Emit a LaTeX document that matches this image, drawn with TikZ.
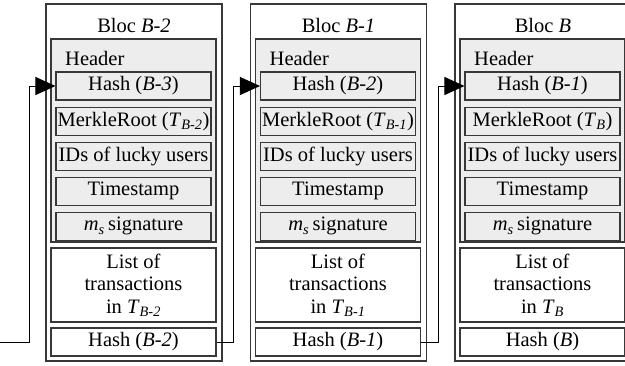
\documentclass[tikz,border=0pt]{standalone}
\usepackage{fontspec}
\setmainfont{Liberation Serif}
\usepackage{tikz}
\usetikzlibrary{arrows.meta,positioning}
\usepackage{xcolor}
\definecolor{hdrgray}{rgb}{0.93,0.93,0.93}
\definecolor{linegray}{rgb}{0.22,0.22,0.22}
\newcommand{\blocfont}{\fontsize{20.5}{22.5}\selectfont}
\tikzset{
  bloc/.style    ={rectangle, draw=linegray, fill=white, line width=1.1pt,
                   minimum width=176pt, minimum height=357pt, inner sep=0pt},
  hdr/.style     ={rectangle, draw=linegray, fill=hdrgray, line width=1.1pt,
                   minimum width=165pt, minimum height=203pt, inner sep=0pt},
  field/.style   ={rectangle, draw=linegray, fill=hdrgray, line width=1.1pt,
                   minimum width=155pt, minimum height=28pt, inner sep=0pt,
                   font=\blocfont},
  txlist/.style  ={rectangle, draw=linegray, fill=white, line width=1.1pt,
                   minimum width=165pt, minimum height=74pt, inner sep=0pt,
                   align=center, font=\blocfont},
  outhash/.style ={field, fill=white, minimum width=165pt},
  label/.style   ={font=\blocfont, inner sep=0pt},
  link/.style    ={-{Triangle[length=20pt,width=18pt]}, line width=1pt, draw=black},
}

\begin{document}
\begin{tikzpicture}[x=1pt, y=-1pt]
  \useasboundingbox (0,0) rectangle (625,365);
  \foreach \dx/\cur/\prev [count=\i] in {0/B-2/B-3, 204.5/B-1/B-2, 409/B/B-1} {
    \begin{scope}[xshift=\dx]
      \node[bloc]                        (bloc\i)   at (134,182.5) {};
      \node[label]                       (title\i)  at (134,25) {Bloc \textit{\cur}};
      \node[hdr]                         (hdr\i)    at (133.5,140.5) {};
      \node[label, anchor=west]          (hlab\i)   at (65,58) {Header};
      \node[field]                       (hash\i)   at (133.5,86) {Hash (\textit{\prev})};
      \node[field, below=6pt of hash\i]  (merkle\i) {MerkleRoot (\textit{T}\textsubscript{\textit{\cur}})};
      \node[field, below=6pt of merkle\i] (ids\i)   {IDs of lucky users};
      \node[field, below=6pt of ids\i]   (time\i)   {Timestamp};
      \node[field, below=6pt of time\i]  (sig\i)    {\textit{m}\textsubscript{\textit{s}}\,signature};
      \node[txlist]                      (list\i)   at (133.5,285) {List of\\transactions\\in \textit{T}\textsubscript{\textit{\cur}}};
      \node[outhash]                     (out\i)    at (133.5,342) {Hash (\textit{\cur})};
    \end{scope}
  }
  % chaining of the blocs
  \coordinate (prevbloc) at (0,342);
  \draw[link] (prevbloc) -- ++(29,0) |- (hash1.west);
  \draw[link] (out1.east) -- ++(17,0) |- (hash2.west);
  \draw[link] (out2.east) -- ++(17,0) |- (hash3.west);
\end{tikzpicture}
\end{document}
